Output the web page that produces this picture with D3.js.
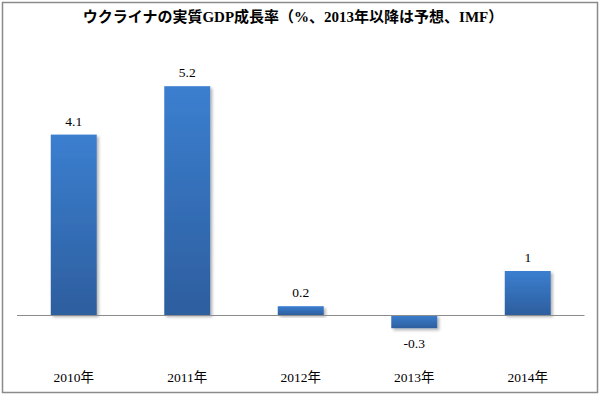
<!DOCTYPE html>
<html>
<head>
<meta charset="utf-8">
<script src="https://cdn.jsdelivr.net/npm/d3@7"></script>
<style>
  body { margin: 0; background: #fff; }
  svg { display: block; }
</style>
</head>
<body>
<script>
// data
const years = ["2010年", "2011年", "2012年", "2013年", "2014年"];
const growth = [4.1, 5.2, 0.2, -0.3, 1];
const valueLabels = ["4.1", "5.2", "0.2", "-0.3", "1"];
const title = "ウクライナの実質GDP成長率（%、2013年以降は予想、IMF）";

const width = 602, height = 398;
const font = "'Liberation Serif', 'DejaVu Serif', 'Noto Sans CJK JP', serif";

const svg = d3.select("body").append("svg")
  .attr("width", width)
  .attr("height", height);

const defs = svg.append("defs");
const grad = defs.append("linearGradient")
  .attr("id", "barGrad")
  .attr("x1", 0).attr("y1", 0).attr("x2", 0).attr("y2", 1);
grad.append("stop").attr("offset", "0%").attr("stop-color", "#3b7fd0");
grad.append("stop").attr("offset", "100%").attr("stop-color", "#2d5e9e");

const shadow = defs.append("filter").attr("id", "shadow")
  .attr("x", "-20%").attr("y", "-20%").attr("width", "150%").attr("height", "150%");
shadow.append("feDropShadow")
  .attr("dx", 2).attr("dy", 2).attr("stdDeviation", 1.5)
  .attr("flood-color", "#000").attr("flood-opacity", 0.3);

// outer frame
svg.append("rect")
  .attr("x", 2.5).attr("y", 2.5)
  .attr("width", 595).attr("height", 390)
  .attr("fill", "#fff")
  .attr("stroke", "#8a8a8a")
  .attr("stroke-width", 1.5);

// scales
const x = d3.scaleBand()
  .domain(years)
  .range([17, 584.5])
  .paddingInner(0.595)
  .paddingOuter(0.2975);

const y = d3.scaleLinear()
  .domain([-1, 6])
  .range([359, 51]);

// title
svg.append("text")
  .attr("x", 293)
  .attr("y", 22)
  .attr("text-anchor", "middle")
  .attr("font-family", font)
  .attr("font-weight", "bold")
  .attr("font-size", 15)
  .attr("fill", "#000")
  .text(title);

// bars
svg.append("g")
  .selectAll("rect")
  .data(growth)
  .join("rect")
  .attr("x", (d, i) => x(years[i]))
  .attr("width", x.bandwidth())
  .attr("y", d => y(Math.max(0, d)))
  .attr("height", d => Math.abs(y(d) - y(0)))
  .attr("fill", "url(#barGrad)")
  .attr("filter", "url(#shadow)");

// zero line
svg.append("line")
  .attr("x1", 17).attr("x2", 584.5)
  .attr("y1", y(0) + 0.5).attr("y2", y(0) + 0.5)
  .attr("stroke", "#8c8c8c")
  .attr("stroke-width", 1.2);

// value labels
svg.append("g")
  .selectAll("text")
  .data(growth)
  .join("text")
  .attr("x", (d, i) => x(years[i]) + x.bandwidth() / 2)
  .attr("y", d => d >= 0 ? y(d) - 9 : y(d) + 20)
  .attr("text-anchor", "middle")
  .attr("font-family", font)
  .attr("font-size", 13.5)
  .attr("fill", "#000")
  .text((d, i) => valueLabels[i]);

// category labels
svg.append("g")
  .selectAll("text")
  .data(years)
  .join("text")
  .attr("x", d => x(d) + x.bandwidth() / 2)
  .attr("y", 382)
  .attr("text-anchor", "middle")
  .attr("font-family", font)
  .attr("font-size", 13.5)
  .attr("fill", "#000")
  .text(d => d);
</script>
</body>
</html>
